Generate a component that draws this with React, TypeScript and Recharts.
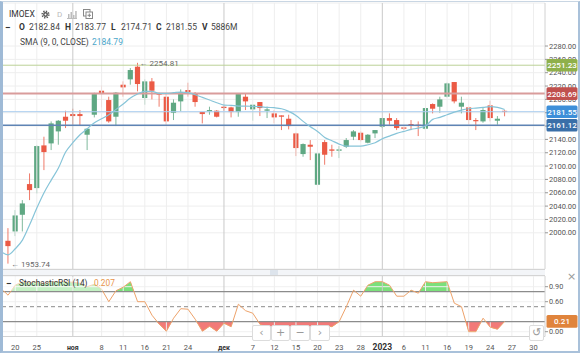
import React from 'react';
import { ComposedChart, Bar, Line, Area, XAxis, YAxis, CartesianGrid, ReferenceLine, ReferenceDot } from 'recharts';

// OHLC per trading day (19 Oct 2022 .. 26 Jan 2023)
const openP = [1988, 2002, 2027, 2073, 2067, 2131, 2134, 2152, 2174, 2178, 2178, 2147, 2177, 2213, 2199, 2174, 2222, 2230, 2249, 2202, 2227, 2209, 2204, 2180, 2197, 2214, 2209, 2181, 2182, 2183, 2189, 2188, 2181, 2204, 2185, 2196, 2183, 2179, 2176, 2171, 2149, 2118, 2132, 2072, 2136, 2125, 2123, 2129, 2144, 2150, 2135, 2149, 2159, 2172, 2169, 2158, 2163, 2162, 2156, 2193, 2189, 2204, 2226, 2189, 2188, 2169, 2167, 2191, 2168, 2182.84];
const highP = [2007, 2034, 2049, 2089, 2131, 2144, 2167, 2169, 2183, 2186, 2184, 2156, 2210, 2221, 2204, 2211, 2227, 2247, 2254.81, 2230, 2232, 2210, 2209, 2200, 2215, 2225, 2211, 2181, 2189, 2184, 2190, 2189, 2209, 2209, 2192, 2196, 2189, 2184, 2176, 2177, 2150, 2134, 2139, 2120, 2139, 2132, 2130, 2142, 2154, 2152, 2148, 2154, 2172, 2179, 2172, 2159, 2169, 2167, 2187, 2194, 2204, 2225, 2226, 2204, 2189, 2172, 2187, 2198, 2175, 2183.77];
const lowP = [1953.74, 1995, 2002, 2049, 2059, 2094, 2124, 2132, 2157, 2162, 2161, 2124, 2173, 2188, 2165, 2160, 2204, 2222, 2212, 2192, 2200, 2189, 2162, 2169, 2182, 2204, 2189, 2164, 2177, 2173, 2183, 2173, 2174, 2184, 2168, 2175, 2172, 2164, 2154, 2155, 2115, 2114, 2109, 2071, 2102, 2114, 2112, 2127, 2139, 2137, 2134, 2142, 2157, 2162, 2154, 2154, 2154, 2145, 2154, 2179, 2180, 2203, 2194, 2179, 2163, 2154, 2165, 2167, 2162, 2174.71];
const closeP = [1980, 2026, 2044, 2064, 2130, 2121, 2164, 2168, 2168, 2175, 2175, 2156, 2208, 2208, 2167, 2210, 2218, 2244, 2223, 2227, 2213, 2207, 2167, 2195, 2211, 2211, 2196, 2178, 2184, 2174, 2187, 2181, 2208, 2197, 2192, 2187, 2185, 2173, 2174, 2160, 2127, 2133, 2129, 2119, 2117, 2123, 2125, 2139, 2152, 2139, 2147, 2154, 2172, 2168, 2157, 2156, 2161, 2160, 2187, 2186, 2200, 2224, 2197, 2195, 2169, 2168, 2184, 2172, 2171, 2181.55];

// SMA(9), starting one day before the first visible candle
const sma9 = [1972, 1967, 1976, 1989, 2012, 2037, 2060, 2079, 2097, 2121, 2135, 2147, 2156, 2165, 2171, 2177, 2185, 2193, 2202, 2208, 2212, 2212, 2209, 2209, 2210, 2211, 2210, 2207, 2203, 2199, 2195, 2191.5, 2191, 2190, 2190, 2189.5, 2189, 2188, 2187.5, 2186, 2182, 2176, 2167, 2159, 2152, 2143, 2138, 2133, 2130, 2130, 2130, 2132, 2135, 2141, 2145, 2149, 2152, 2155, 2157, 2160, 2170, 2173, 2177, 2181, 2184, 2186, 2187, 2188, 2189, 2188, 2184.79];

// Stochastic RSI (14), same day range as sma9
const stochRsi = [0.87, 0.73, 0.93, 1.0, 0.98, 1.0, 0.96, 1.0, 1.0, 1.0, 0.99, 0.97, 0.9, 0.95, 0.85, 0.6, 0.82, 0.89, 1.0, 0.6, 0.6, 0.33, 0.15, 0.01, 0.27, 0.46, 0.45, 0.25, 0.01, 0.11, 0.01, 0.17, 0.1, 0.55, 0.42, 0.37, 0.15, 0.08, 0.05, 0.03, 0.02, 0.0, 0.04, 0.06, 0.1, 0.12, 0.1, 0.2, 0.5, 0.83, 0.71, 0.93, 1.0, 1.0, 0.93, 0.71, 0.71, 0.83, 0.77, 1.0, 0.98, 0.99, 1.0, 0.57, 0.5, 0.0, 0.0, 0.27, 0.09, 0.05, 0.207];

const tickIndex = [1, 4, 9, 13, 16, 19, 22, 25, 30, 34, 37, 40, 43, 46, 49, 52, 55, 58, 61, 64, 67, 70, 73];
const tickLabels = ['20', '25', 'ноя', '8', '11', '16', '21', '24', 'дек', '7', '12', '15', '20', '23', '28', '2023', '6', '11', '16', '19', '24', '27', '30'];
const monthLabels = ['ноя', 'дек', '2023'];
const priceTicks = [2000, 2020, 2040, 2060, 2080, 2100, 2120, 2140, 2160, 2180, 2200, 2220, 2240, 2260, 2280];
const rsiTicks = [0, 0.6, 0.9];
const priceLevels = [
  { value: 2251.23, line: '#bcd196', tag: '#8fb04a', width: 1 },
  { value: 2208.69, line: '#d99c9b', tag: '#c0504d', width: 2 },
  { value: 2181.55, line: '#a9cdef', tag: '#3d8fd9', width: 1 },
  { value: 2161.12, line: '#5f84b4', tag: '#3a6fa8', width: 1.6 },
];
const volumeText = '5886M';

const rows = sma9.map((s, k) => {
  const j = k - 1;
  const has = j >= 0;
  return {
    i: j,
    open: has ? openP[j] : null,
    high: has ? highP[j] : null,
    low: has ? lowP[j] : null,
    close: has ? closeP[j] : null,
    sma: s,
    rsi: stochRsi[k],
  };
});

const last = openP.length - 1;
const hiIdx = highP.indexOf(Math.max(...highP));
const loIdx = lowP.indexOf(Math.min(...lowP));
const lastRsi = stochRsi[stochRsi.length - 1];

const UP = '#5fa883';
const DOWN = '#eb5a45';
const FONT = 'Roboto, sans-serif';
const X_DOMAIN: [number, number] = [-0.7, 74.6];
const P_DOMAIN: [number, number] = [1945.7, 2344.5];
const R_DOMAIN: [number, number] = [-0.096, 1.114];

const Candle = (props: any) => {
  const { x, y, width, height, payload } = props;
  if (payload == null || payload.open == null) return null;
  const top0 = height < 0 ? y + height : y;
  const h = Math.abs(height);
  const { open, close, high, low } = payload;
  const span = high - low || 1;
  const k = h / span;
  const cx = x + width / 2;
  const bTop = top0 + (high - Math.max(open, close)) * k;
  const bBot = top0 + (high - Math.min(open, close)) * k;
  const col = close >= open ? UP : DOWN;
  return (
    <g>
      <line x1={cx} x2={cx} y1={top0} y2={top0 + h} stroke={col} strokeOpacity={0.8} strokeWidth={1} />
      <rect x={cx - 2.6} y={bTop} width={5.2} height={Math.max(1.2, bBot - bTop)} fill={col} />
    </g>
  );
};

// labels that sit fully under a price tag are not visible in the reference
const hiddenUnderTag = (v: number) => priceLevels.some((p) => Math.abs(p.value - v) < 8);

const PriceTick = (props: any) => {
  const { x, y, payload } = props;
  if (hiddenUnderTag(Number(payload.value))) return null;
  return (
    <text x={x} y={y + 2.7} fontSize={7.5} fill="#555" fontFamily={FONT} textAnchor="start">
      {Number(payload.value).toFixed(2)}
    </text>
  );
};

const RsiTick = (props: any) => {
  const { x, y, payload } = props;
  return (
    <text x={x} y={y + 2.7} fontSize={7.3} fill="#555" fontFamily={FONT} textAnchor="start">
      {Number(payload.value).toFixed(2)}
    </text>
  );
};

const DateTick = (props: any) => {
  const { x, y, payload } = props;
  const label = tickLabels[tickIndex.indexOf(payload.value)];
  const isMonth = monthLabels.includes(label);
  const isYear = label === '2023';
  return (
    <text
      x={x}
      y={y + 11.5}
      textAnchor="middle"
      fontFamily={FONT}
      fontSize={isYear ? 8.5 : isMonth ? 7 : 7.5}
      fontWeight={isMonth ? 700 : 400}
      fill={isMonth ? '#333' : '#555'}
    >
      {label}
    </text>
  );
};

const makeTag = (text: string, bg: string) => (props: any) => {
  const vb = props.viewBox || {};
  const x0 = vb.x + vb.width + 1.5;
  const yc = vb.y;
  return (
    <g>
      <rect x={x0} y={yc - 6.3} width={31} height={12.6} rx={1.5} fill={bg} />
      <text x={x0 + 15.5} y={yc + 3} textAnchor="middle" fontSize={8} fontWeight={500} fill="#fff" fontFamily={FONT}>
        {text}
      </text>
    </g>
  );
};

const verticalLines = tickIndex.map((t, k) => (
  <ReferenceLine
    key={'v' + t}
    x={t}
    stroke={monthLabels.includes(tickLabels[k]) ? '#c9c9c9' : '#eeeeee'}
    strokeWidth={1}
  />
));

const Gear = () => (
  <svg width={9} height={9} viewBox="0 0 9 9" style={{ position: 'absolute', left: 41, top: 10 }}>
    <circle cx={4.5} cy={4.5} r={3.2} fill="none" stroke="#555" strokeWidth={1.8} strokeDasharray="1.3 1.2" />
    <circle cx={4.5} cy={4.5} r={2.4} fill="#555" />
    <circle cx={4.5} cy={4.5} r={1} fill="#fff" />
  </svg>
);

const BarsIcon = () => (
  <svg width={10} height={9} viewBox="0 0 10 9" style={{ position: 'absolute', left: 67, top: 10 }}>
    <rect x={0} y={8} width={10} height={1} fill="#bbb" />
    <rect x={1} y={4} width={1.5} height={4} fill="#bbb" />
    <rect x={3.5} y={2} width={1.5} height={6} fill="#bbb" />
    <rect x={6} y={5} width={1.5} height={3} fill="#bbb" />
    <rect x={8.2} y={1} width={1.5} height={7} fill="#bbb" />
  </svg>
);

const CompareIcon = () => (
  <svg width={10} height={10} viewBox="0 0 10 10" style={{ position: 'absolute', left: 83, top: 9 }}>
    <rect x={0.5} y={0.5} width={6.5} height={6.5} fill="#fff" stroke="#888" />
    <rect x={3} y={3} width={6.5} height={6.5} fill="#fff" stroke="#888" />
    <path d="M4.5 6.3 H8 M6.3 4.5 V8" stroke="#888" />
  </svg>
);

const txt = (left: number, top: number, content: React.ReactNode, style: React.CSSProperties = {}) => (
  <div style={{ position: 'absolute', left, top, fontSize: 8.5, lineHeight: '11px', color: '#333', whiteSpace: 'nowrap', fontFamily: FONT, ...style }}>
    {content}
  </div>
);

const NavBtn = ({ left, w, glyph }: { left: number; w: number; glyph: string }) => (
  <div
    style={{
      position: 'absolute', left, top: 325, width: w, height: 16, boxSizing: 'border-box',
      border: '1px solid #dcdcdc', borderRadius: 2, background: '#fff', color: '#9a9a9a',
      fontSize: 11, lineHeight: '14px', textAlign: 'center', fontFamily: 'DejaVu Sans, sans-serif',
    }}
  >
    {glyph}
  </div>
);

export default function App() {
  return (
    <div style={{ position: 'fixed', left: 0, top: 0, width: 586, height: 355, background: '#fff', overflow: 'hidden', fontFamily: FONT }}>
      {/* frame */}
      <div style={{ position: 'absolute', left: 0, top: 1, width: 580, height: 352, boxSizing: 'border-box', borderLeft: '3px solid #9fbad6', borderTop: '1px solid #c9d6e3', borderRight: '2px solid #a9c1da', borderBottom: '2px solid #a9c1da' }} />

      {/* main price pane */}
      <div style={{ position: 'absolute', left: 0, top: 0 }}>
        <ComposedChart width={586} height={271} data={rows} margin={{ top: 3, right: 0, bottom: 2, left: 3 }}>
          <CartesianGrid vertical={false} stroke="#eeeeee" />
          <XAxis type="number" dataKey="i" domain={X_DOMAIN} allowDataOverflow hide />
          <YAxis
            orientation="right"
            width={41}
            domain={P_DOMAIN}
            allowDataOverflow
            ticks={priceTicks}
            interval={0}
            tick={<PriceTick />}
            tickSize={3}
            tickMargin={1}
            tickLine={{ stroke: '#999' }}
            axisLine={{ stroke: '#d2d2d2' }}
          />
          {verticalLines}
          {priceLevels.map((p) => (
            <ReferenceLine key={'l' + p.value} y={p.value} stroke={p.line} strokeWidth={p.width} />
          ))}
          <Bar
            dataKey={(r: any) => (r.low == null ? null : [r.low, r.high])}
            barSize={5}
            shape={<Candle />}
            isAnimationActive={false}
          />
          <Line type="monotone" dataKey="sma" stroke="#86c4d8" strokeWidth={1.2} dot={false} isAnimationActive={false} />
          <ReferenceDot
            x={hiIdx}
            y={highP[hiIdx]}
            r={0}
            shape={(p: any) => (
              <text x={p.cx + 2} y={p.cy + 3} fontSize={8} fill="#666" fontFamily={FONT}>{'← ' + highP[hiIdx].toFixed(2)}</text>
            )}
          />
          <ReferenceDot
            x={loIdx}
            y={lowP[loIdx]}
            r={0}
            shape={(p: any) => (
              <text x={p.cx + 3} y={p.cy + 3} fontSize={8} fill="#666" fontFamily={FONT}>{'← ' + lowP[loIdx].toFixed(2)}</text>
            )}
          />
        </ComposedChart>
      </div>

      {/* price level tags above axis labels */}
      <div style={{ position: 'absolute', left: 0, top: 0 }}>
        <ComposedChart width={586} height={271} data={rows} margin={{ top: 3, right: 41, bottom: 2, left: 3 }}>
          <XAxis type="number" dataKey="i" domain={X_DOMAIN} allowDataOverflow hide />
          <YAxis domain={P_DOMAIN} allowDataOverflow hide />
          {priceLevels.map((p) => (
            <ReferenceLine key={'t' + p.value} y={p.value} stroke="none" label={makeTag(p.value.toFixed(2), p.tag)} />
          ))}
        </ComposedChart>
      </div>

      {/* pane separator */}
      <div style={{ position: 'absolute', left: 3, top: 269, width: 542, height: 7, background: '#f3f5f8', borderTop: '1px solid #d4d4d4', borderBottom: '1px solid #d4d4d4', boxSizing: 'border-box' }} />
      <div style={{ position: 'absolute', left: 270, top: 270, width: 8, height: 5, background: '#dde4ec' }} />

      {/* stochastic RSI fills */}
      <div style={{ position: 'absolute', left: 0, top: 276 }}>
        <ComposedChart width={586} height={15.7} data={rows} margin={{ top: 0, right: 41, bottom: 0, left: 3 }}>
          <XAxis type="number" dataKey="i" domain={X_DOMAIN} allowDataOverflow hide />
          <YAxis domain={[0.8, R_DOMAIN[1]]} allowDataOverflow hide />
          <Area type="linear" dataKey="rsi" baseValue={0.8} stroke="none" fill="#7be07b" fillOpacity={1} isAnimationActive={false} />
        </ComposedChart>
      </div>
      <div style={{ position: 'absolute', left: 0, top: 321.7 }}>
        <ComposedChart width={586} height={14.8} data={rows} margin={{ top: 0, right: 41, bottom: 0, left: 3 }}>
          <XAxis type="number" dataKey="i" domain={X_DOMAIN} allowDataOverflow hide />
          <YAxis domain={[R_DOMAIN[0], 0.2]} allowDataOverflow hide />
          <Area type="linear" dataKey="rsi" baseValue={0.2} stroke="none" fill="#f27a78" fillOpacity={1} isAnimationActive={false} />
        </ComposedChart>
      </div>

      {/* stochastic RSI pane */}
      <div style={{ position: 'absolute', left: 0, top: 276 }}>
        <ComposedChart width={586} height={78} data={rows} margin={{ top: 0, right: 0, bottom: 0, left: 3 }}>
          <CartesianGrid vertical={false} stroke="#f0f0f0" />
          <XAxis
            type="number"
            dataKey="i"
            domain={X_DOMAIN}
            allowDataOverflow
            ticks={tickIndex}
            interval={0}
            tick={<DateTick />}
            tickLine={false}
            tickSize={0}
            height={17.5}
            axisLine={{ stroke: '#d2d2d2' }}
          />
          <YAxis
            orientation="right"
            width={41}
            domain={R_DOMAIN}
            allowDataOverflow
            ticks={rsiTicks}
            interval={0}
            tick={<RsiTick />}
            tickSize={3}
            tickMargin={1}
            tickLine={{ stroke: '#999' }}
            axisLine={{ stroke: '#d2d2d2' }}
          />
          {verticalLines}
          <ReferenceLine y={0.8} stroke="#8c8c8c" strokeWidth={1.2} />
          <ReferenceLine y={0.5} stroke="#8c8c8c" strokeWidth={1} strokeDasharray="4 3" />
          <ReferenceLine y={0.2} stroke="#8c8c8c" strokeWidth={1.2} />
          <Line type="linear" dataKey="rsi" stroke="#eda26a" strokeWidth={1} dot={false} isAnimationActive={false} />
          <ReferenceLine y={lastRsi} stroke="none" label={makeTag(lastRsi.toFixed(2), '#e0843c')} />
        </ComposedChart>
      </div>

      {/* header legend */}
      {txt(9, 9, 'IMOEX', { fontSize: 8.5, color: '#333' })}
      <Gear />
      {txt(57, 9, 'D', { color: '#bbb', fontSize: 8 })}
      <BarsIcon />
      <CompareIcon />
      {txt(5, 22, '−', { fontWeight: 700, fontSize: 10 })}
      {txt(19, 22, 'O', { fontWeight: 700 })}
      {txt(29, 22, openP[last].toFixed(2), { color: '#444' })}
      {txt(65, 22, 'H', { fontWeight: 700 })}
      {txt(75, 22, highP[last].toFixed(2), { color: '#444' })}
      {txt(111, 22, 'L', { fontWeight: 700 })}
      {txt(121, 22, lowP[last].toFixed(2), { color: '#444' })}
      {txt(156, 22, 'C', { fontWeight: 700 })}
      {txt(166, 22, closeP[last].toFixed(2), { color: '#444' })}
      {txt(202, 22, 'V', { fontWeight: 700 })}
      {txt(211, 22, volumeText, { color: '#444' })}
      {txt(20, 37, 'SMA (9, 0, CLOSE)', { color: '#444' })}
      {txt(92, 37, sma9[sma9.length - 1].toFixed(2), { color: '#4ba6c9' })}

      {/* stochastic legend */}
      <div style={{ position: 'absolute', left: 3, top: 277, width: 103, height: 14, background: 'rgba(255,255,255,0.55)' }} />
      {txt(6, 277.5, '−', { fontWeight: 700, fontSize: 10 })}
      {txt(19, 278, 'StochasticRSI (14)', { color: '#333', fontSize: 8.3 })}
      {txt(94, 278, lastRsi.toFixed(3), { color: '#e8944a', fontSize: 8.3 })}
      {txt(567, 271, '×', { color: '#999', fontSize: 11, fontFamily: 'DejaVu Sans, sans-serif' })}

      {/* navigation buttons */}
      <NavBtn left={252} w={19} glyph="‹" />
      <NavBtn left={271} w={19} glyph="+" />
      <NavBtn left={290} w={20} glyph="−" />
      <NavBtn left={310} w={20} glyph="›" />
      <NavBtn left={529} w={15} glyph="↺" />
    </div>
  );
}
